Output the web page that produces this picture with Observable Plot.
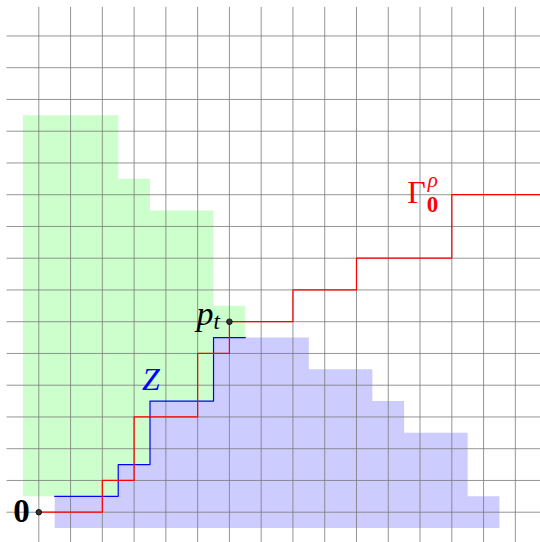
<!DOCTYPE html>
<html><head><meta charset="utf-8">
<script src="https://cdn.jsdelivr.net/npm/d3@7"></script>
<script src="https://cdn.jsdelivr.net/npm/@observablehq/plot@0.6"></script>
<style>html,body{margin:0;padding:0;background:#fff;overflow:hidden;}</style>
</head><body><div id="chart"></div>
<script>
// grid indices
const gridCols = [0,1,2,3,4,5,6,7,8,9,10,11,12,13,14,15];
const gridRows = [0,1,2,3,4,5,6,7,8,9,10,11,12,13,14,15];

// green region (polygon vertices, grid units)
const greenRegion = [[-0.5,0.5],[-0.5,12.5],[2.5,12.5],[2.5,10.5],[3.5,10.5],[3.5,9.5],[5.5,9.5],[5.5,6.5],[6.5,6.5],[6.5,5.5],[5.5,5.5],[5.5,3.5],[3.5,3.5],[3.5,1.5],[2.5,1.5],[2.5,0.5]];
// blue region
const blueRegion = [[0.5,-0.5],[14.5,-0.5],[14.5,0.5],[13.5,0.5],[13.5,2.5],[11.5,2.5],[11.5,3.5],[10.5,3.5],[10.5,4.5],[8.5,4.5],[8.5,5.5],[5.5,5.5],[5.5,3.5],[3.5,3.5],[3.5,1.5],[2.5,1.5],[2.5,0.5],[0.5,0.5]];
// Z path (blue)
const zPath = [[0.5,0.5],[2.5,0.5],[2.5,1.5],[3.5,1.5],[3.5,3.5],[5.5,3.5],[5.5,5.5],[6.5,5.5]];
// Gamma path (red)
const gammaPath = [[0,0],[2,0],[2,1],[3,1],[3,3],[5,3],[5,5],[6,5],[6,6],[8,6],[8,7],[10,7],[10,8],[13,8],[13,10],[16,10]];
// marked points
const points = [[0,0],[6,6]];

const serif = "Liberation Serif, DejaVu Serif, serif";
const chart = Plot.plot({
  width: 540, height: 542,
  margin: 0,
  x: {domain: [-1.2055, 15.792], axis: null},
  y: {domain: [-0.954, 16.117], axis: null},
  marks: [
    Plot.line(greenRegion, {x: d => d[0], y: d => d[1], fill: "#ccffcc", stroke: "none"}),
    Plot.line(blueRegion, {x: d => d[0], y: d => d[1], fill: "#ccccff", stroke: "none"}),
    Plot.ruleX(gridCols, {x: d => d, y1: -1, y2: 15.9, stroke: "#7a7a7a", strokeWidth: 0.8}),
    Plot.ruleY(gridRows, {y: d => d, x1: -1, x2: 16, stroke: "#7a7a7a", strokeWidth: 0.8}),
    Plot.line(zPath, {x: d => d[0], y: d => d[1], stroke: "#0000ff", strokeWidth: 1.2}),
    Plot.line(gammaPath, {x: d => d[0], y: d => d[1], stroke: "#ff0000", strokeWidth: 1.2}),
    Plot.dot(points, {x: d => d[0], y: d => d[1], r: 2.8, fill: "#333", stroke: "#000", strokeWidth: 0.8}),
    // labels
    Plot.text(["0"], {x: 0, y: 0, text: d => d, textAnchor: "end", lineAnchor: "bottom", dx: -9, dy: 10, fontSize: 33, fontWeight: "bold", fontFamily: serif, fill: "#000"}),
    Plot.text(["p"], {x: 6, y: 6, text: d => d, textAnchor: "end", lineAnchor: "bottom", dx: -16, dy: 3, fontSize: 34, fontStyle: "italic", fontFamily: serif, fill: "#000"}),
    Plot.text(["t"], {x: 6, y: 6, text: d => d, textAnchor: "start", lineAnchor: "bottom", dx: -16, dy: 7, fontSize: 23, fontStyle: "italic", fontFamily: serif, fill: "#000"}),
    Plot.text(["Z"], {x: 3.5, y: 4, text: d => d, textAnchor: "middle", lineAnchor: "bottom", dx: 1, dy: 5, fontSize: 32, fontStyle: "italic", fontFamily: serif, fill: "#0000ff"}),
    Plot.text(["Γ"], {x: 13, y: 10, text: d => d, textAnchor: "end", lineAnchor: "bottom", dx: -26, dy: 8.5, fontSize: 32, fontFamily: serif, fill: "#ff0000"}),
    Plot.text(["0"], {x: 13, y: 10, text: d => d, textAnchor: "start", lineAnchor: "bottom", dx: -25, dy: 17, fontSize: 23, fontWeight: "bold", fontFamily: serif, fill: "#ff0000"}),
    Plot.text(["ρ"], {x: 13, y: 10, text: d => d, textAnchor: "start", lineAnchor: "bottom", dx: -24, dy: -8, fontSize: 21, fontStyle: "italic", fontFamily: serif, fill: "#ff0000"})
  ]
});
document.getElementById("chart").appendChild(chart);
</script>
</body></html>
